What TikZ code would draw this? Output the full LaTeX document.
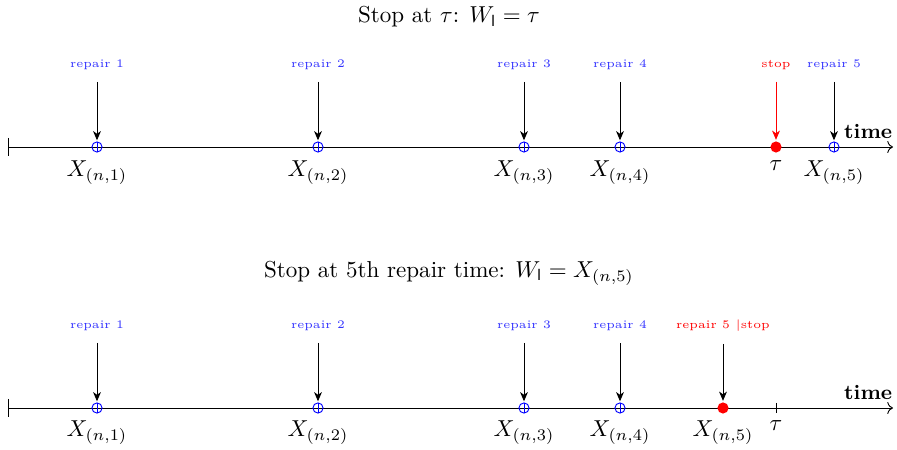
\documentclass[tikz,border=0pt]{standalone}
\usepackage{amsmath,amssymb}
\usepackage{tikz}
\usetikzlibrary{arrows.meta, positioning, calc}
\definecolor{mrep}{HTML}{3333FF}
\definecolor{mstop}{HTML}{FF0000}
\tikzset{
  repmark/.style={circle, draw=blue, thin, inner sep=0pt, minimum size=0.155cm,
                  path picture={\draw[blue, thin]
                    (path picture bounding box.north) -- (path picture bounding box.south);}},
  stopmark/.style={circle, fill=mstop, inner sep=0pt, minimum size=0.17cm},
  replab/.style={font=\tiny, text=mrep, inner sep=2pt},
  stoplab/.style={font=\tiny, text=mstop, inner sep=2pt},
  arr/.style={-{Stealth[length=4pt,width=3.4pt,inset=1.2pt]}, thin, black, shorten <=3pt, shorten >=0.5pt},
  sarr/.style={-{Stealth[length=4pt,width=3.4pt,inset=1.2pt]}, thin, mstop, shorten <=3pt, shorten >=0.5pt},
  axis/.style={->, thin, black},
}

\begin{document}
\begin{tikzpicture}[x=0.01525cm, y=-0.01525cm,
    xlab/.style={inner sep=1pt, anchor=north},
    ttl/.style={font=\normalsize, align=center},
  ]
  \useasboundingbox (0,0) rectangle (897,450);

  % Oben: Stopp bei tau
  \node[ttl] (t1) at (449,17) {Stop at $\tau$: $W_{\mathsf{l}} = \tau$};
  \coordinate (o1) at (8,147);
  \coordinate (e1) at (893,147);
  \draw[axis] (o1) -- (e1);
  \draw ($(o1)+(0,-9)$) -- ($(o1)+(0,9)$);
  \node[font=\small\bfseries, anchor=south east, inner sep=1pt] (tm1) at (895,141) {time};

  \foreach \k/\x in {1/97, 2/318, 3/524, 4/620, 5/834} {
    \node[repmark] (m1\k) at (\x,147) {};
    \node[replab] (l1\k) at (\x,65) {repair \k};
    \draw[arr] (l1\k) -- (m1\k);
    \node[xlab] (x1\k) at (\x,158) {$X_{(n,\k)}$};
  }
  \node[stopmark] (s1) at (776,147) {};
  \node[stoplab] (sl1) at (776,65) {stop};
  \draw[sarr] (sl1) -- (s1);
  \node[xlab] (tau1) at (776,158) {$\tau$};

  % Unten: Stopp bei der 5. Reparatur
  \node[ttl] (t2) at (449,273) {Stop at 5th repair time: $W_{\mathsf{l}} = X_{(n,5)}$};
  \coordinate (o2) at (8,408);
  \coordinate (e2) at (893,408);
  \draw[axis] (o2) -- (e2);
  \draw ($(o2)+(0,-9)$) -- ($(o2)+(0,9)$);
  \node[font=\small\bfseries, anchor=south east, inner sep=1pt] (tm2) at (895,402) {time};

  \foreach \k/\x in {1/97, 2/318, 3/524, 4/620} {
    \node[repmark] (m2\k) at (\x,408) {};
    \node[replab] (l2\k) at (\x,326) {repair \k};
    \draw[arr] (l2\k) -- (m2\k);
    \node[xlab] (x2\k) at (\x,418) {$X_{(n,\k)}$};
  }
  \node[stopmark] (s2) at (723,408) {};
  \node[stoplab] (sl2) at (723,326) {repair 5 |stop};
  \draw[arr] (sl2) -- (s2);
  \node[xlab] (x25) at (723,418) {$X_{(n,5)}$};
  \coordinate (tk2) at (776,408);
  \draw ($(tk2)+(0,-5)$) -- ($(tk2)+(0,5)$);
  \node[xlab] (tau2) at (776,418) {$\tau$};
\end{tikzpicture}
\end{document}
